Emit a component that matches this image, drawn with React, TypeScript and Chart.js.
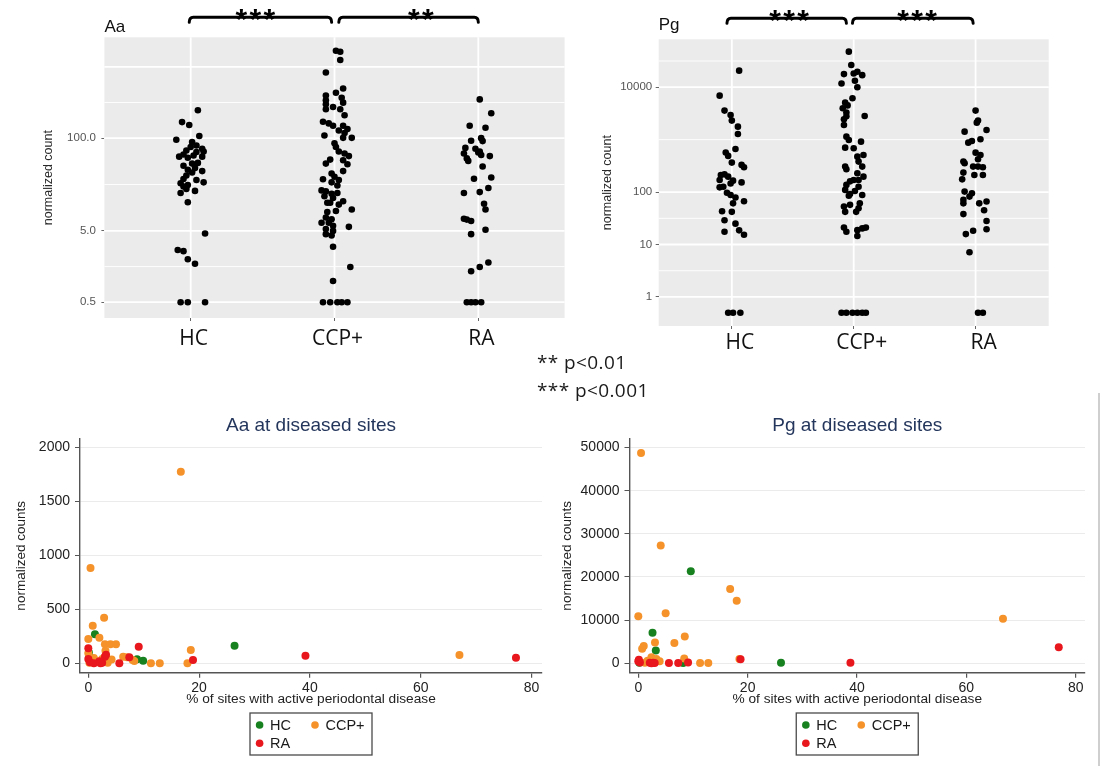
import React, { useEffect, useRef } from 'react';
import { Chart, registerables } from 'chart.js';

Chart.register(...registerables);

// ---------- data ----------
const groups = ['HC', 'CCP+', 'RA'];

// Aa: normalized counts per subject, with horizontal jitter (fraction of a category step)
const aaHCCounts = [246, 168, 153, 107, 95, 88, 79, 75, 71, 67, 64, 65, 59, 57, 55, 53, 55, 45, 44, 41, 38, 36, 34.5, 33, 30, 26.7, 25.9, 24, 23.3, 22, 21, 19.4, 18.2, 17, 12.6, 4.6, 2.7, 2.6, 2.0, 1.73, 0.5, 0.5, 0.5];
const aaHCJitter = [0.05, -0.06, -0.01, 0.06, -0.10, 0.01, 0.04, 0.00, 0.08, -0.03, 0.04, 0.09, -0.05, 0.02, 0.08, -0.02, -0.08, 0.05, 0.01, -0.05, 0.03, -0.02, 0.08, 0.01, -0.03, -0.05, 0.04, 0.09, -0.07, -0.02, -0.05, -0.03, 0.03, -0.07, -0.02, 0.10, -0.09, -0.05, -0.02, 0.03, -0.07, -0.02, 0.10];
const aaCCPCounts = [1680, 1630, 1250, 834, 497, 433, 397, 369, 339, 315, 298, 274, 254, 254, 210, 170, 161, 149, 149, 134, 128, 118, 101, 101, 109, 85, 75, 65, 61, 56, 49, 43, 44, 50, 34.5, 32, 28.8, 26.5, 25.9, 24, 21.7, 18.5, 17.9, 16.6, 17, 15.3, 14.5, 12.4, 12.4, 11.7, 13, 10, 9.2, 9.5, 7.7, 7.3, 6.5, 6.5, 5.9, 5.7, 5.3, 5.0, 4.5, 4.3, 3.0, 1.56, 0.99, 0.5, 0.5, 0.5, 0.5, 0.5];
const aaCCPJitter = [0.01, 0.04, 0.04, -0.06, 0.06, 0.01, -0.06, 0.05, -0.06, 0.06, -0.06, -0.01, -0.06, 0.04, 0.07, -0.08, -0.04, -0.01, 0.06, 0.09, 0.03, 0.07, 0.12, 0.06, -0.07, 0.00, 0.01, 0.03, 0.07, 0.10, 0.06, 0.09, -0.06, -0.03, 0.06, -0.02, 0.00, -0.08, 0.03, -0.02, 0.02, -0.09, -0.06, -0.02, 0.02, -0.07, -0.01, -0.05, -0.03, 0.03, 0.06, 0.12, -0.05, 0.01, -0.06, -0.02, -0.09, -0.04, -0.01, 0.10, -0.06, -0.01, -0.06, -0.02, -0.01, 0.11, -0.01, -0.08, -0.03, 0.02, 0.05, 0.09];
const aaRACounts = [350, 224, 149, 140, 92, 100, 91, 73, 71, 65, 61, 63, 58, 56, 52, 48, 40, 27, 28, 17, 17.5, 20, 12, 10, 7.4, 7.2, 6.9, 5.2, 4.5, 1.8, 1.56, 1.36, 0.5, 0.5, 0.5, 0.5];
const aaRAJitter = [0.01, 0.09, -0.06, 0.05, -0.05, 0.02, 0.03, -0.09, -0.02, 0.01, -0.10, 0.00, 0.02, 0.08, -0.08, -0.07, 0.03, -0.03, 0.09, -0.10, 0.01, 0.07, 0.04, 0.05, -0.10, -0.08, -0.05, 0.05, -0.05, 0.07, 0.01, -0.05, -0.08, -0.05, -0.02, 0.02];

// Pg: normalized counts per subject
const pgHCCounts = [20700, 6900, 3580, 2960, 2310, 1770, 1285, 665, 566, 490, 365, 330, 297, 212, 218, 197, 165, 170, 153, 126, 146, 123, 97, 88, 79, 67, 61, 42, 43, 29, 25, 18.6, 17.5, 15.3, 0.5, 0.5, 0.5];
const pgHCJitter = [0.06, -0.10, -0.06, -0.01, 0.00, 0.05, 0.05, 0.03, -0.05, -0.03, 0.00, 0.08, 0.10, -0.09, -0.06, -0.03, 0.01, -0.10, 0.08, -0.07, -0.01, -0.10, -0.04, -0.01, 0.03, 0.10, 0.01, 0.00, -0.08, -0.06, 0.03, 0.06, -0.06, 0.10, -0.03, 0.01, 0.07];
const pgCCPCounts = [47700, 26500, 17800, 18300, 19700, 17000, 11800, 13300, 10000, 6170, 5080, 4500, 3970, 3280, 2800, 2450, 1900, 2820, 1140, 986, 703, 685, 916, 510, 474, 381, 306, 272, 306, 228, 197, 170, 170, 160, 137, 110, 92, 126, 88, 105, 85, 53, 57, 49, 42, 42, 61, 21, 17.5, 18.8, 20.3, 21, 14.5, 0.5, 0.5, 0.5, 0.5, 0.5, 0.5];
const pgCCPJitter = [-0.04, -0.02, -0.08, 0.00, 0.03, 0.07, -0.10, 0.01, 0.03, -0.01, -0.07, -0.05, -0.09, -0.06, -0.06, -0.08, -0.08, 0.09, -0.06, -0.04, -0.07, 0.00, 0.06, 0.08, 0.03, 0.04, -0.07, -0.06, 0.07, 0.03, 0.08, 0.00, 0.04, -0.03, -0.06, -0.07, -0.03, 0.04, 0.07, 0.01, -0.04, -0.08, -0.03, 0.04, -0.07, 0.02, 0.05, -0.08, -0.06, 0.03, 0.07, 0.10, 0.03, -0.10, -0.06, -0.01, 0.03, 0.07, 0.10];
const pgRACounts = [3580, 2310, 2110, 1420, 1530, 877, 945, 1020, 565, 510, 423, 381, 354, 306, 306, 297, 212, 212, 235, 175, 102, 95, 71, 82, 61, 61, 66, 45, 38, 28, 19.5, 18.3, 15.8, 7.1, 0.5, 0.5];
const pgRAJitter = [0.00, 0.02, 0.01, -0.09, 0.09, -0.06, -0.03, 0.04, 0.00, 0.04, 0.02, -0.10, -0.09, -0.02, 0.02, 0.06, -0.01, 0.06, -0.10, -0.11, -0.09, -0.03, -0.10, -0.05, -0.10, 0.03, 0.09, 0.07, -0.10, 0.09, 0.09, -0.02, -0.08, -0.05, 0.02, 0.06];

// log-axis ticks and grid
const aaTickValues = [0.5, 5, 100];
const aaTickLabels = ['0.5', '5.0', '100.0'];
const aaMajorGrid = [0.5, 5, 100, 1000];
const aaMinorGrid = [1.58, 22.4, 316];
const pgTickValues = [1, 10, 100, 10000];
const pgTickLabels = ['1', '10', '100', '10000'];
const pgMajorGrid = [1, 10, 100, 10000];
const pgMinorGrid = [3.16, 31.6, 1000, 31623];

// significance brackets: [from, to] in category units, and star labels
const aaBrackets = [[0.99, 1.98], [2.03, 3.0]];
const aaStars = [{ at: 1.45, text: '***' }, { at: 2.6, text: '**' }];
const pgBrackets = [[0.96, 1.94], [1.99, 2.98]];
const pgStars = [{ at: 1.47, text: '***' }, { at: 2.52, text: '***' }];

// % of sites with active periodontal disease vs normalized counts: [pct, count]
const aaSitesHC = [[1.2, 268], [8.8, 37], [9.9, 24], [26.4, 163], [0.1, 100], [0.2, 60]];
const aaSitesCCP = [[0.4, 880], [16.7, 1772], [0.8, 348], [2.85, 422], [2.0, 237], [0, 225], [3.0, 176], [4.0, 176], [5.0, 176], [0, 93], [3.1, 117], [3.0, 61], [18.5, 123], [6.3, 61], [8.3, 21], [11.3, 0], [12.9, 0], [17.9, 0], [67.0, 77], [0.5, 30], [1.5, 10], [2.5, 40], [4.2, 35], [1.0, 50], [3.5, 5], [0.2, 5], [7.0, 55], [8.0, 30]];
const aaSitesRA = [[0, 139], [9.1, 154], [18.9, 31], [7.4, 55], [5.6, 0], [39.2, 70], [77.2, 52], [0, 40], [0.3, 10], [2.5, 5], [3.0, 60], [2.0, 20], [3.2, 80], [1.0, 0], [2.2, 0]];
const pgSitesHC = [[9.6, 21300], [2.6, 7100], [3.2, 2950], [26.1, 150], [8.2, 50], [0.2, 100]];
const pgSitesCCP = [[0.5, 48700], [4.1, 27300], [16.8, 17200], [18.0, 14500], [0, 10900], [5.0, 11600], [66.7, 10300], [8.5, 6200], [3.05, 4800], [6.6, 4700], [1.0, 4000], [0.7, 3400], [2.4, 1400], [3.3, 1000], [1.7, 600], [3.9, 500], [8.4, 1100], [11.3, 50], [12.8, 50], [2.8, 200], [1.2, 100], [18.5, 1000]];
const pgSitesRA = [[0, 500], [0.3, 200], [2.1, 100], [2.7, 150], [5.6, 50], [7.3, 80], [9.1, 200], [18.7, 950], [38.8, 150], [76.9, 3700], [2.4, 0], [3.0, 50], [0.1, 800]];

const pctTicks = [0, 20, 40, 60, 80];
const aaCountTicks = [0, 500, 1000, 1500, 2000];
const pgCountTicks = [0, 10000, 20000, 30000, 40000, 50000];

const groupColors = ['#17801f', '#f5922a', '#e8171d'];

const ARIAL = '"Liberation Sans", Arial, sans-serif';
const LABEL_FONT = '"Open Sans", sans-serif';

// ---------- plugins ----------
const jitterDecor = {
  id: 'jitterDecor',
  beforeDraw(chart: any, _args: any, opts: any) {
    const { ctx, chartArea: a, scales } = chart;
    const ys = scales.y;
    const xs = scales.x;
    ctx.save();
    ctx.fillStyle = '#EBEBEB';
    ctx.fillRect(a.left, a.top, a.right - a.left, a.bottom - a.top);
    ctx.strokeStyle = '#FFFFFF';
    const hline = (v: number, w: number) => {
      const py = ys.getPixelForValue(v);
      if (py < a.top || py > a.bottom) return;
      ctx.lineWidth = w;
      ctx.beginPath();
      ctx.moveTo(a.left, py);
      ctx.lineTo(a.right, py);
      ctx.stroke();
    };
    opts.minorGrid.forEach((v: number) => hline(v, 0.9));
    opts.majorGrid.forEach((v: number) => hline(v, 1.8));
    groups.forEach((_g, i) => {
      const px = xs.getPixelForValue(i + 1);
      ctx.lineWidth = 1.8;
      ctx.beginPath();
      ctx.moveTo(px, a.top);
      ctx.lineTo(px, a.bottom);
      ctx.stroke();
    });
    ctx.restore();
  },
  afterDraw(chart: any, _args: any, opts: any) {
    const { ctx, chartArea: a, scales } = chart;
    const xs = scales.x;
    const yb = a.top + opts.bracketOffset;
    ctx.save();
    ctx.strokeStyle = '#000';
    ctx.fillStyle = '#000';
    ctx.lineWidth = 3;
    ctx.lineCap = 'round';
    ctx.lineJoin = 'round';
    opts.brackets.forEach(([c0, c1]: number[]) => {
      const x0 = xs.getPixelForValue(c0);
      const x1 = xs.getPixelForValue(c1);
      ctx.beginPath();
      ctx.moveTo(x0, yb + 5);
      ctx.quadraticCurveTo(x0, yb, x0 + 4, yb);
      ctx.lineTo(x1 - 4, yb);
      ctx.quadraticCurveTo(x1, yb, x1, yb + 5);
      ctx.stroke();
    });
    ctx.font = 'bold 30px ' + ARIAL;
    ctx.textAlign = 'center';
    ctx.textBaseline = 'alphabetic';
    opts.stars.forEach((s: any) => {
      const cx = xs.getPixelForValue(s.at);
      const n = s.text.length;
      for (let i = 0; i < n; i++) {
        ctx.fillText('*', cx + (i - (n - 1) / 2) * 14, yb + 12);
      }
    });
    ctx.restore();
  },
};

const stataLegend = {
  id: 'stataLegend',
  afterDraw(chart: any, _args: any, opts: any) {
    const { ctx, chartArea: a } = chart;
    const w = 122;
    const h = 42;
    const left = (a.left + a.right) / 2 - w / 2;
    const top = opts.top;
    ctx.save();
    ctx.strokeStyle = '#4a4a4a';
    ctx.lineWidth = 1.3;
    ctx.strokeRect(left, top, w, h);
    const slots = [[9.6, 12], [65, 12], [9.6, 30.3]];
    ctx.font = '14.5px ' + ARIAL;
    ctx.textBaseline = 'middle';
    ctx.textAlign = 'left';
    groups.forEach((g, i) => {
      const [dx, dy] = slots[i];
      ctx.fillStyle = groupColors[i];
      ctx.beginPath();
      ctx.arc(left + dx, top + dy, 3.8, 0, Math.PI * 2);
      ctx.fill();
      ctx.fillStyle = '#1a1a1a';
      ctx.fillText(g, left + dx + 10.5, top + dy + 1);
    });
    ctx.restore();
  },
};

// ---------- chart builders ----------
type JitterSpec = {
  title: string;
  counts: number[][];
  jitter: number[][];
  yMin: number;
  yMax: number;
  tickValues: number[];
  tickLabels: string[];
  majorGrid: number[];
  minorGrid: number[];
  yAxisWidth: number;
  rightPad: number;
  titlePadTop: number;
  titlePadBottom: number;
  yTitlePad: number;
  yTickPad: number;
  xAxisHeight: number;
  labelPad: number;
  labelOffset: number;
  brackets: number[][];
  stars: { at: number; text: string }[];
  bracketOffset: number;
};

function buildJitterChart(canvas: HTMLCanvasElement, s: JitterSpec) {
  return new Chart(canvas, {
    type: 'scatter',
    data: {
      datasets: groups.map((g, gi) => ({
        label: g,
        data: s.counts[gi].map((v, i) => ({ x: gi + 1 + (s.jitter[gi][i] ?? 0), y: v })),
        pointRadius: 3.3,
        pointHoverRadius: 3.3,
        backgroundColor: '#000',
        borderWidth: 0,
      })),
    },
    options: {
      responsive: false,
      animation: false,
      events: [],
      layout: { padding: { left: 0, right: s.rightPad, top: 0, bottom: 0 } },
      plugins: {
        legend: { display: false },
        tooltip: { enabled: false },
        title: {
          display: true,
          text: s.title,
          align: 'start',
          fullSize: false,
          color: '#111',
          font: { family: ARIAL, size: 17, weight: 'normal' },
          padding: { top: s.titlePadTop, bottom: s.titlePadBottom },
        },
        jitterDecor: {
          majorGrid: s.majorGrid,
          minorGrid: s.minorGrid,
          brackets: s.brackets,
          stars: s.stars,
          bracketOffset: s.bracketOffset,
        },
      } as any,
      scales: {
        x: {
          type: 'linear',
          min: 0.4,
          max: 3.6,
          afterBuildTicks: (sc: any) => {
            sc.ticks = groups.map((_g, i) => ({ value: i + 1 }));
          },
          afterFit: (sc: any) => {
            sc.height = s.xAxisHeight;
          },
          ticks: {
            callback: (v: any) => groups[Number(v) - 1] ?? '',
            autoSkip: false,
            maxRotation: 0,
            color: '#111',
            font: { family: LABEL_FONT, size: 21 },
            padding: s.labelPad,
            labelOffset: s.labelOffset,
          },
          grid: { drawOnChartArea: false, drawTicks: true, tickLength: 3, tickColor: '#666', lineWidth: 1 },
          border: { display: false },
        },
        y: {
          type: 'logarithmic',
          min: s.yMin,
          max: s.yMax,
          afterBuildTicks: (sc: any) => {
            sc.ticks = s.tickValues.map((v) => ({ value: v }));
          },
          afterFit: (sc: any) => {
            sc.width = s.yAxisWidth;
          },
          ticks: {
            callback: (v: any) => {
              const i = s.tickValues.indexOf(Number(v));
              return i >= 0 ? s.tickLabels[i] : '';
            },
            autoSkip: false,
            color: '#555',
            font: { family: ARIAL, size: 11.5 },
            padding: s.yTickPad,
          },
          grid: { drawOnChartArea: false, drawTicks: true, tickLength: 3, tickColor: '#666', lineWidth: 1 },
          border: { display: false },
          title: {
            display: true,
            text: 'normalized count',
            color: '#2a2a2a',
            font: { family: ARIAL, size: 12.5 },
            padding: { top: s.yTitlePad, bottom: 0 },
          },
        },
      },
    } as any,
    plugins: [jitterDecor as any],
  });
}

type SitesSpec = {
  title: string;
  series: number[][][];
  xMin: number;
  xMax: number;
  yMin: number;
  yMax: number;
  yTicks: number[];
  yAxisWidth: number;
  rightPad: number;
  yTitlePad: number;
};

function buildSitesChart(canvas: HTMLCanvasElement, s: SitesSpec) {
  const drawOrder = [2, 1, 0];
  return new Chart(canvas, {
    type: 'scatter',
    data: {
      datasets: groups.map((g, gi) => ({
        label: g,
        data: s.series[gi].map(([p, c]) => ({ x: p, y: c })),
        pointRadius: 4,
        pointHoverRadius: 4,
        backgroundColor: groupColors[gi],
        borderWidth: 0,
        order: drawOrder[gi],
      })),
    },
    options: {
      responsive: false,
      animation: false,
      events: [],
      layout: { padding: { left: 0, right: s.rightPad, top: 0, bottom: 0 } },
      plugins: {
        legend: { display: false },
        tooltip: { enabled: false },
        title: {
          display: true,
          text: s.title,
          align: 'center',
          fullSize: false,
          color: '#24365c',
          font: { family: ARIAL, size: 19, weight: 'normal' },
          padding: { top: 14.6, bottom: 1.6 },
        },
        stataLegend: { top: 313 },
      } as any,
      scales: {
        x: {
          type: 'linear',
          min: s.xMin,
          max: s.xMax,
          afterBuildTicks: (sc: any) => {
            sc.ticks = pctTicks.map((v) => ({ value: v }));
          },
          afterFit: (sc: any) => {
            sc.height = 93.3;
          },
          ticks: {
            callback: (v: any) => String(v),
            autoSkip: false,
            maxRotation: 0,
            color: '#222',
            font: { family: ARIAL, size: 14 },
            padding: 2,
          },
          grid: { drawOnChartArea: false, drawTicks: true, tickLength: 5, tickColor: '#555', lineWidth: 1.2 },
          border: { display: true, color: '#555', width: 1.4 },
          title: {
            display: true,
            text: '% of sites with active periodontal disease',
            color: '#222',
            font: { family: ARIAL, size: 13.7 },
            padding: { top: 0, bottom: 58.8 },
          },
        },
        y: {
          type: 'linear',
          min: s.yMin,
          max: s.yMax,
          afterBuildTicks: (sc: any) => {
            sc.ticks = s.yTicks.map((v) => ({ value: v }));
          },
          afterFit: (sc: any) => {
            sc.width = s.yAxisWidth;
          },
          ticks: {
            callback: (v: any) => String(v),
            autoSkip: false,
            color: '#222',
            font: { family: ARIAL, size: 14 },
            padding: 5,
          },
          grid: { color: '#ebebeb', lineWidth: 1, drawTicks: true, tickLength: 5, tickColor: '#555' },
          border: { display: true, color: '#555', width: 1.4 },
          title: {
            display: true,
            text: 'normalized counts',
            color: '#222',
            font: { family: ARIAL, size: 13.5 },
            padding: { top: s.yTitlePad, bottom: 0 },
          },
        },
      },
    } as any,
    plugins: [stataLegend as any],
  });
}

// ---------- component ----------
export default function App() {
  const aaRef = useRef<HTMLCanvasElement>(null);
  const pgRef = useRef<HTMLCanvasElement>(null);
  const aaSitesRef = useRef<HTMLCanvasElement>(null);
  const pgSitesRef = useRef<HTMLCanvasElement>(null);

  useEffect(() => {
    const charts: Chart[] = [];
    if (aaRef.current) {
      charts.push(
        buildJitterChart(aaRef.current, {
          title: 'Aa',
          counts: [aaHCCounts, aaCCPCounts, aaRACounts],
          jitter: [aaHCJitter, aaCCPJitter, aaRAJitter],
          yMin: 0.337,
          yMax: 2600,
          tickValues: aaTickValues,
          tickLabels: aaTickLabels,
          majorGrid: aaMajorGrid,
          minorGrid: aaMinorGrid,
          yAxisWidth: 104.4,
          rightPad: 15.4,
          titlePadTop: 16.8,
          titlePadBottom: 0.1,
          yTitlePad: 41.5,
          yTickPad: 5.5,
          xAxisHeight: 42,
          labelPad: 5,
          labelOffset: 3,
          brackets: aaBrackets,
          stars: aaStars,
          bracketOffset: -20,
        })
      );
    }
    if (pgRef.current) {
      charts.push(
        buildJitterChart(pgRef.current, {
          title: 'Pg',
          counts: [pgHCCounts, pgCCPCounts, pgRACounts],
          jitter: [pgHCJitter, pgCCPJitter, pgRAJitter],
          yMin: 0.279,
          yMax: 82000,
          tickValues: pgTickValues,
          tickLabels: pgTickLabels,
          majorGrid: pgMajorGrid,
          minorGrid: pgMinorGrid,
          yAxisWidth: 78.7,
          rightPad: 53.3,
          titlePadTop: 14.8,
          titlePadBottom: 4.1,
          yTitlePad: 20.4,
          yTickPad: 3.5,
          xAxisHeight: 46,
          labelPad: 1,
          labelOffset: 8,
          brackets: pgBrackets,
          stars: pgStars,
          bracketOffset: -21,
        })
      );
    }
    if (aaSitesRef.current) {
      charts.push(
        buildSitesChart(aaSitesRef.current, {
          title: 'Aa at diseased sites',
          series: [aaSitesHC, aaSitesCCP, aaSitesRA],
          xMin: -1.5,
          xMax: 81.9,
          yMin: -87,
          yMax: 2074,
          yTicks: aaCountTicks,
          yAxisWidth: 80,
          rightPad: 8,
          yTitlePad: 12.9,
        })
      );
    }
    if (pgSitesRef.current) {
      charts.push(
        buildSitesChart(pgSitesRef.current, {
          title: 'Pg at diseased sites',
          series: [pgSitesHC, pgSitesCCP, pgSitesRA],
          xMin: -1.61,
          xMax: 81.7,
          yMin: -2178,
          yMax: 51970,
          yTicks: pgCountTicks,
          yAxisWidth: 79.5,
          rightPad: 17,
          yTitlePad: 8.7,
        })
      );
    }
    return () => charts.forEach((c) => c.destroy());
  }, []);

  const abs = (left: number, top: number): React.CSSProperties => ({ position: 'absolute', left, top });

  return (
    <div style={{ position: 'absolute', left: 0, top: 0, width: 1102, height: 766, background: '#fff', overflow: 'hidden' }}>
      <canvas ref={aaRef} width={580} height={360} style={abs(0, 0)} />
      <canvas ref={pgRef} width={522} height={372} style={abs(580, 0)} />
      <canvas ref={aaSitesRef} width={550} height={366} style={abs(0, 400)} />
      <canvas ref={pgSitesRef} width={552} height={366} style={abs(550, 400)} />
      <div
        style={{
          ...abs(537, 348),
          fontFamily: LABEL_FONT,
          fontSize: 19,
          letterSpacing: '0.4px',
          lineHeight: '28px',
          color: '#1a1a1a',
          whiteSpace: 'pre',
        }}
      >
        {'** p<0.01\n*** p<0.001'}
      </div>
      <div style={{ ...abs(1098, 393), width: 1.5, height: 373, background: '#cfcfcf' }} />
    </div>
  );
}
